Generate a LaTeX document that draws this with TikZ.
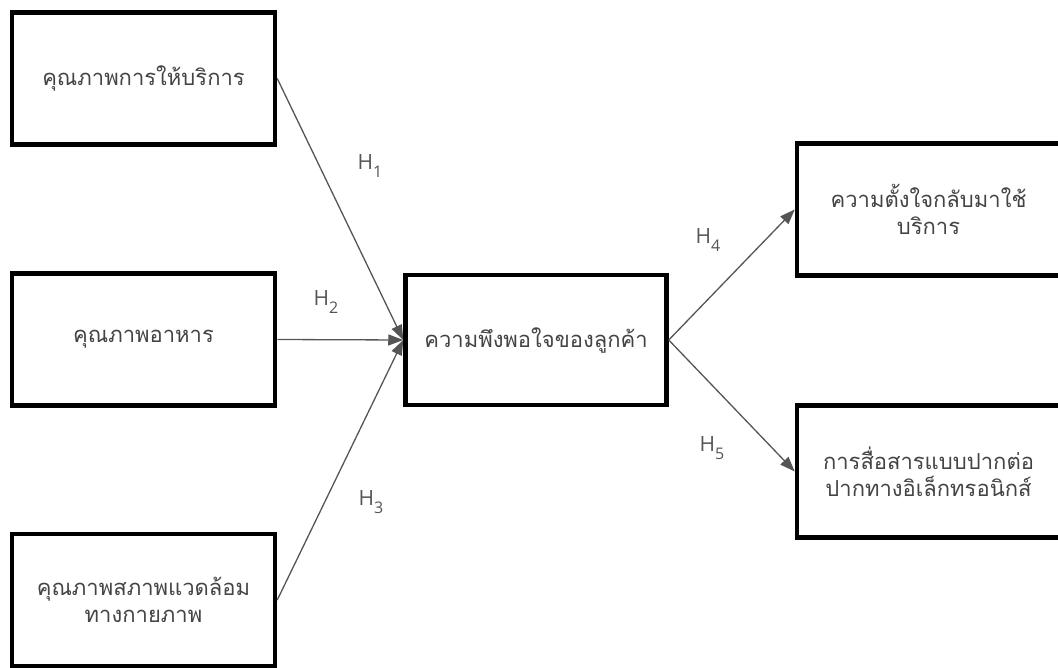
\documentclass[tikz,border=0pt]{standalone}
\usepackage{fontspec}
\setmainfont{Open Sans}
\newfontfamily\thaifont[Script=Thai]{Loma}
\usetikzlibrary{arrows.meta}
\definecolor{txtgray}{HTML}{444444}
\definecolor{arrgray}{HTML}{555555}
\newcommand{\hsub}[1]{H\raisebox{-8pt}{\fontsize{16}{18}\selectfont #1}}

\begin{document}
\begin{tikzpicture}[x=1pt, y=-1pt,
    box/.style={rectangle, draw=black, line width=4.5pt, fill=white, minimum width=263pt, minimum height=132pt, inner sep=0pt, align=center, text=txtgray, font=\thaifont\fontsize{22}{27}\selectfont},
    link/.style={-{Triangle[length=15pt, width=11pt]}, draw=arrgray, line width=1.3pt},
    hyp/.style={text=arrgray, font=\fontsize{21}{24}\selectfont}]
    \useasboundingbox (0,0) rectangle (1058,668);

    \node[box] (service) at (143.5,78.5) {คุณภาพการให้บริการ};
    \node[box] (food) at (143.5,339.5) {คุณภาพอาหาร};
    \node[box] (env) at (143.5,600) {คุณภาพสภาพแวดล้อม\\ทางกายภาพ};
    \node[box, minimum width=261pt, minimum height=130pt] (sat) at (536,340) {ความพึงพอใจของลูกค้า};
    \node[box] (revisit) at (928.5,209.5) {ความตั้งใจกลับมาใช้\\บริการ};
    \node[box] (ewom) at (928.5,471.5) {การสื่อสารแบบปากต่อ\\ปากทางอิเล็กทรอนิกส์};

    \node[hyp] (h1) at (370,166) {\hsub{1}};
    \node[hyp] (h2) at (326,302) {\hsub{2}};
    \node[hyp] (h3) at (371,502) {\hsub{3}};
    \node[hyp] (h4) at (708,240) {\hsub{4}};
    \node[hyp] (h5) at (712,448) {\hsub{5}};

    \draw[link] (service.east) -- (sat.west);
    \draw[link] (food.east) -- (sat.west);
    \draw[link] (env.east) -- (sat.west);
    \draw[link] (sat.east) -- (revisit.west);
    \draw[link] (sat.east) -- (ewom.west);
\end{tikzpicture}
\end{document}
